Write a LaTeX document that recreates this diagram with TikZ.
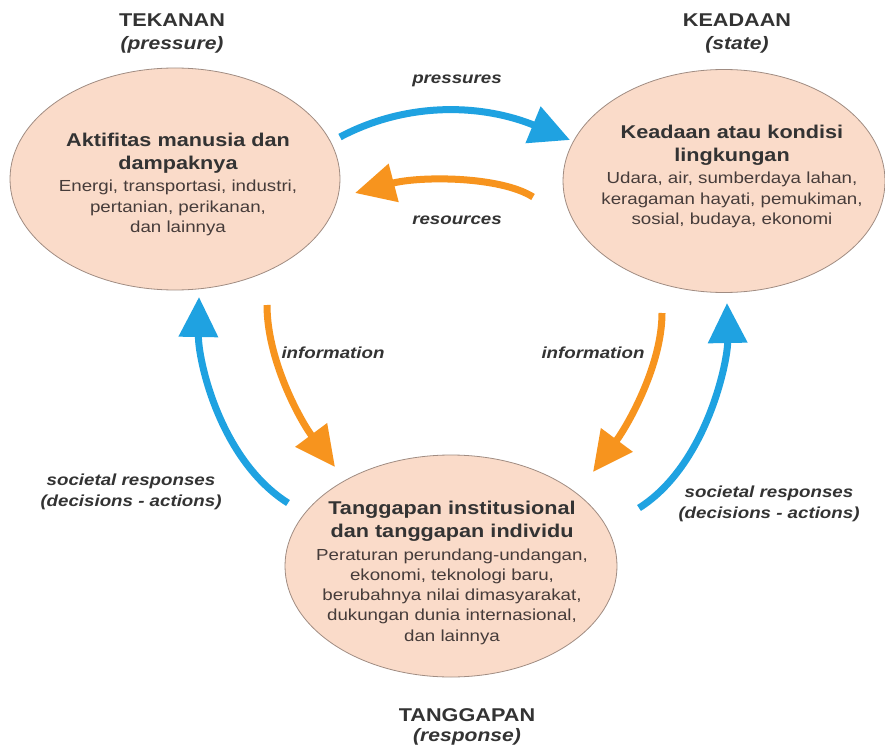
\documentclass[tikz,border=0pt]{standalone}
\usepackage{fontspec}
\setmainfont{Liberation Sans}[FakeStretch=1.17]
\usetikzlibrary{arrows.meta,shapes.geometric}
\definecolor{arrblue}{HTML}{1FA2E1}
\definecolor{arrorange}{HTML}{F7941E}
\definecolor{ellfill}{HTML}{FADBC9}
\definecolor{elldraw}{HTML}{A08C82}
\definecolor{txtdark}{HTML}{333333}
\definecolor{txtbody}{HTML}{463C3A}
\tikzset{
 bubble/.style={ellipse, draw=elldraw, line width=0.8pt, fill=ellfill, inner sep=0pt},
 headtxt/.style={align=center, text=txtdark, font=\fontsize{18.5}{23}\selectfont\bfseries, inner sep=0pt},
 bodytxt/.style={align=center, text=txtbody, font=\fontsize{16}{20.3}\selectfont, inner sep=0pt},
 titletxt/.style={text=txtdark, font=\fontsize{18.5}{22}\selectfont\bfseries, inner sep=0pt},
 subtxt/.style={text=txtdark, font=\fontsize{18}{22}\selectfont\bfseries\itshape, inner sep=0pt},
 lbl/.style={align=center, text=txtdark, font=\fontsize{16}{20.5}\selectfont\bfseries\itshape, inner sep=0pt},
 bluearrow/.style={draw=arrblue, line width=7pt, -{Triangle[length=40pt,width=38pt]}},
 orangearrow/.style={draw=arrorange, line width=7pt, -{Triangle[length=40pt,width=38pt]}},
}
\begin{document}
\begin{tikzpicture}[x=1pt,y=-1pt]
\useasboundingbox (0,0) rectangle (885,746);
\fill[white] (0,0) rectangle (885,746);

% ellipses
\node[bubble, minimum width=330pt, minimum height=222pt] (left) at (175,179) {};
\node[bubble, minimum width=322pt, minimum height=223pt] (right) at (724,181) {};
\node[bubble, minimum width=332pt, minimum height=222pt] (bottom) at (451,566) {};

% ellipse texts
\node[headtxt] (lefthead) at (178,153.5) {Aktifitas manusia dan\\dampaknya};
\node[bodytxt] (leftbody) at (178,208) {Energi, transportasi, industri,\\pertanian, perikanan,\\dan lainnya};
\node[headtxt] (righthead) at (732,145) {Keadaan atau kondisi\\lingkungan};
\node[bodytxt] (rightbody) at (732,200) {Udara, air, sumberdaya lahan,\\keragaman hayati, pemukiman,\\sosial, budaya, ekonomi};
\node[headtxt] (bottomhead) at (452,521.5) {Tanggapan institusional\\dan tanggapan individu};
\node[bodytxt] (bottombody) at (452,596.5) {Peraturan perundang-undangan,\\ekonomi, teknologi baru,\\berubahnya nilai dimasyarakat,\\dukungan dunia internasional,\\dan lainnya};

% titles
\node[titletxt] (t1) at (172,20) {TEKANAN};
\node[subtxt] (t1s) at (172,45) {(pressure)};
\node[titletxt] (t2) at (737,20) {KEADAAN};
\node[subtxt] (t2s) at (737,45) {(state)};
\node[titletxt] (t3) at (467,715) {TANGGAPAN};
\node[subtxt] (t3s) at (467,737) {(response)};

% labels
\node[lbl] (lpress) at (457,81) {pressures};
\node[lbl] (lres) at (457,220) {resources};
\node[lbl] (linfo1) at (333,353) {information};
\node[lbl] (linfo2) at (593,353) {information};
\node[lbl] (lsoc1) at (131,492) {societal responses\\(decisions - actions)};
\node[lbl] (lsoc2) at (769,504) {societal responses\\(decisions - actions)};

% arrow endpoints
\coordinate (pS) at (340,137); \coordinate (pE) at (570,140);
\coordinate (rS) at (533,197); \coordinate (rE) at (355,193);
\coordinate (liS) at (267,305); \coordinate (liE) at (335,467);
\coordinate (lbS) at (288,503); \coordinate (lbE) at (199,297);
\coordinate (riS) at (662,313); \coordinate (riE) at (593,472);
\coordinate (rbS) at (639,508); \coordinate (rbE) at (727,303);

\draw[bluearrow] (pS) .. controls (410,100) and (485,105) .. (pE);
\draw[orangearrow] (rS) .. controls (500,176) and (420,176) .. (rE);
\draw[orangearrow] (liS) .. controls (267,360) and (300,420) .. (liE);
\draw[bluearrow] (lbS) .. controls (220,460) and (198,360) .. (lbE);
\draw[orangearrow] (riS) .. controls (662,365) and (628,425) .. (riE);
\draw[bluearrow] (rbS) .. controls (707,465) and (728,360) .. (rbE);
\end{tikzpicture}
\end{document}
